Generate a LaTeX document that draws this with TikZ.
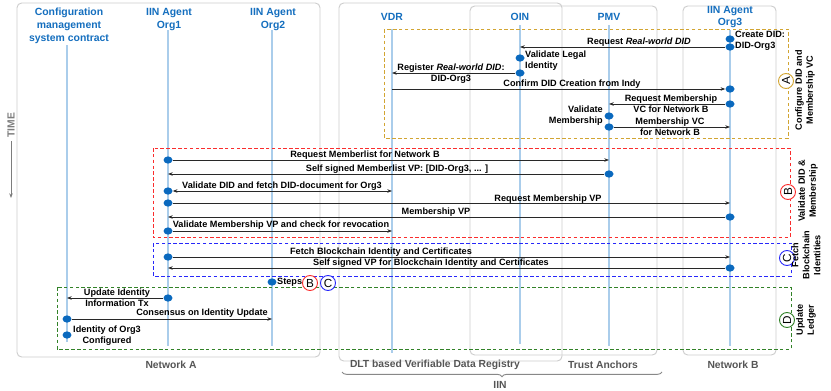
\documentclass[tikz,border=0pt]{standalone}
\usepackage{fontspec}
\setmainfont{Liberation Sans}
\usetikzlibrary{arrows.meta,shapes.geometric,decorations.pathreplacing}
\definecolor{hdrblue}{RGB}{20, 110, 190}
\definecolor{dotblue}{RGB}{10, 105, 190}
\definecolor{lifeblue}{RGB}{170, 205, 235}
\definecolor{boxgray}{RGB}{205, 205, 205}
\definecolor{lblgray}{RGB}{85, 85, 85}
\definecolor{timegray}{RGB}{125, 125, 125}
\definecolor{msgline}{RGB}{40, 40, 40}
\definecolor{stepA}{RGB}{210, 165, 50}
\definecolor{stepB}{RGB}{250, 45, 45}
\definecolor{stepC}{RGB}{40, 40, 250}
\definecolor{stepD}{RGB}{50, 130, 40}

\begin{document}
\begin{tikzpicture}[x=0.03cm, y=-0.03cm, >={Stealth[length=4pt, width=3pt]},
      lifeline/.style={lifeblue, line width=1.3pt},
      box/.style={boxgray, line width=0.8pt, rounded corners=4pt},
      hdr/.style={hdrblue, font=\fontsize{8.9}{11}\selectfont\bfseries, align=center},
      grp/.style={lblgray, font=\fontsize{8.8}{10.5}\selectfont\bfseries},
      txt/.style={font=\fontsize{7.8}{9.4}\selectfont\bfseries, inner sep=0pt},
      dot/.style={ellipse, fill=dotblue, inner sep=0pt, minimum width=0.27cm, minimum height=0.22cm},
      msg/.style={msgline, line width=0.8pt, ->},
      stepbox/.style={dash pattern=on 3pt off 2pt, line width=0.8pt},
      stepmark/.style={circle, draw=#1, fill=white, line width=0.8pt, minimum size=0.45cm, inner sep=0pt, font=\fontsize{10}{10}\selectfont},
      steptxt/.style={txt, rotate=90, align=center}]
      \useasboundingbox (0,0) rectangle (831,391);
      % containers
      \draw[box] (17,3) rectangle (320,357);
      \draw[box] (339,3) rectangle (562,361);
      \draw[box] (470,6) rectangle (657,355);
      \draw[box] (683,6) rectangle (776,355);
      \node[grp] (neta) at (171,365) {Network A};
      \node[grp] (dlt) at (435,365) {DLT based Verifiable Data Registry};
      \node[grp] (trust) at (603,365) {Trust Anchors};
      \node[grp] (netb) at (733,365) {Network B};
      \draw[lblgray!70, line width=0.8pt, decorate, decoration={brace, mirror, amplitude=4pt}]
        (342,372) -- (662,372);
      \node[grp, inner sep=1pt] (iin) at (500,385) {IIN};
      % time axis
      \node[timegray, font=\fontsize{8.8}{10.5}\selectfont\bfseries, rotate=90] (time) at (11,125) {TIME};
      \coordinate (timeend) at (11,198);
      \draw[timegray, line width=0.7pt, ->] (time.west) -- (timeend);
      % lifelines
      \foreach \x/\t/\b in {67/45/342, 168/30/346, 272/30/346, 392/29/353, 520/25/344, 609/25/346, 730/30/346}
        \draw[lifeline] (\x,\t) -- (\x,\b);
      \node[hdr] (hcms) at (69,26) {Configuration\\management\\system contract};
      \node[hdr] (horg1) at (169,19.5) {IIN Agent\\Org1};
      \node[hdr] (horg2) at (273,19.5) {IIN Agent\\Org2};
      \node[hdr] (hvdr) at (392,17) {VDR};
      \node[hdr] (hoin) at (520,17) {OIN};
      \node[hdr] (hpmv) at (609,17) {PMV};
      \node[hdr] (horg3) at (730,17) {IIN Agent\\Org3};
      % step boxes
      \draw[stepbox, stepA] (384,29) rectangle (788,138);
      \draw[stepbox, stepB] (153,148) rectangle (790,237);
      \draw[stepbox, stepC] (153,243) rectangle (791,276);
      \draw[stepbox, stepD] (57,287) rectangle (791,349);
      \node[stepmark=stepA, rotate=90] (marka) at (786,81) {A};
      \node[stepmark=stepB, rotate=90] (markb) at (788,192) {B};
      \node[stepmark=stepC, rotate=90] (markc) at (787,258) {C};
      \node[stepmark=stepD, rotate=90] (markd) at (787,320) {D};
      \node[steptxt] (labela) at (805,90) {Configure DID and\\Membership VC};
      \node[steptxt] (labelb) at (808,191) {Validate DID \&\\Membership};
      \node[steptxt] (labelc) at (806,255) {Fetch\\Blockchain\\Identities};
      \node[steptxt] (labeld) at (806,320) {Update\\Ledger};
      % A: DID and membership VC
      \node[dot] (o3a) at (730,39) {};
      \node[dot] (o3b) at (730,47) {};
      \node[txt, anchor=west, align=left] (didtxt) at (735,41) {Create DID:\\DID-Org3};
      \coordinate (oina) at (520,47);
      \draw[msg] (o3b) -- (oina);
      \node[txt] (reqdid) at (639,42) {Request \textit{Real-world DID}};
      \node[dot] (oinb) at (520,58) {};
      \node[dot] (oinc) at (520,73) {};
      \node[txt, anchor=west, align=left] (legal) at (525,61) {Validate Legal\\Identity};
      \coordinate (vdra) at (392,73);
      \draw[msg] (oinc) -- (vdra);
      \node[txt, align=center] (regdid) at (451,74) {Register \textit{Real-world DID}:\\DID-Org3};
      \coordinate (vdrb) at (392,89);
      \node[dot] (o3c) at (730,89) {};
      \draw[msg] (vdrb) -- (o3c);
      \node[txt] (confirm) at (572,84) {Confirm DID Creation from Indy};
      \node[dot] (o3d) at (730,104) {};
      \coordinate (pmva) at (609,104);
      \draw[msg] (o3d) -- (pmva);
      \node[txt, align=center] (reqvc) at (671,104) {Request Membership\\VC for Network B};
      \node[dot] (pmvb) at (609,116) {};
      \node[dot] (pmvc) at (609,127) {};
      \node[txt, anchor=east, align=right] (valmem) at (603,116) {Validate\\Membership};
      \coordinate (o3e) at (730,127);
      \draw[msg] (pmvc) -- (o3e);
      \node[txt, align=center] (memvc) at (670,127) {Membership VC\\for Network B};
      % B: validate DID and membership
      \node[dot] (o1a) at (168,160) {};
      \coordinate (pmvd) at (609,160);
      \draw[msg] (o1a) -- (pmvd);
      \node[txt] (reqlist) at (365,155) {Request Memberlist for Network B};
      \node[dot] (pmve) at (609,174) {};
      \coordinate (o1b) at (168,174);
      \draw[msg] (pmve) -- (o1b);
      \node[txt] (selflist) at (397,169) {Self signed Memberlist VP: [DID-Org3, ... ]};
      \node[dot] (o1c) at (168,191) {};
      \coordinate (vdrc) at (392,191);
      \draw[msg, <->] (o1c) -- (vdrc);
      \node[txt] (valdid) at (282,186) {Validate DID and fetch DID-document for Org3};
      \node[dot] (o1d) at (168,203) {};
      \coordinate (o3f) at (730,203);
      \draw[msg] (o1d) -- (o3f);
      \node[txt] (reqvp) at (548,199) {Request Membership VP};
      \node[dot] (o3g) at (730,217) {};
      \coordinate (o1e) at (168,217);
      \draw[msg] (o3g) -- (o1e);
      \node[txt] (memvp) at (436,212) {Membership VP};
      \node[dot] (o1f) at (168,231) {};
      \coordinate (vdrd) at (392,231);
      \draw[msg] (o1f) -- (vdrd);
      \node[txt] (valvp) at (281,225) {Validate Membership VP and check for revocation};
      % C: blockchain identities
      \node[dot] (o1g) at (168,257) {};
      \coordinate (o3h) at (730,257);
      \draw[msg] (o1g) -- (o3h);
      \node[txt] (fetch) at (381,252) {Fetch Blockchain Identity and Certificates};
      \node[dot] (o3i) at (730,268) {};
      \coordinate (o1h) at (168,268);
      \draw[msg] (o3i) -- (o1h);
      \node[txt] (selfvp) at (431,263) {Self signed VP for Blockchain Identity and Certificates};
      % D: ledger update
      \node[dot] (o2a) at (272,282) {};
      \node[txt, anchor=west] (steps) at (277,282) {Steps};
      \node[stepmark=stepB] (legb) at (310,283) {B};
      \node[stepmark=stepC] (legc) at (328,283) {C};
      \node[dot] (o1i) at (168,298) {};
      \coordinate (cmsa) at (67,298);
      \draw[msg] (o1i) -- (cmsa);
      \node[txt, align=center] (update) at (117,297.5) {Update Identity\\Information Tx};
      \node[dot] (cmsb) at (67,319) {};
      \coordinate (o2b) at (272,319);
      \draw[msg] (cmsb) -- (o2b);
      \node[txt] (consensus) at (202,313) {Consensus on Identity Update};
      \node[dot] (cmsc) at (67,335) {};
      \node[txt, anchor=west, align=center] (done) at (73,335.5) {Identity of Org3\\Configured};
    \end{tikzpicture}
\end{document}
